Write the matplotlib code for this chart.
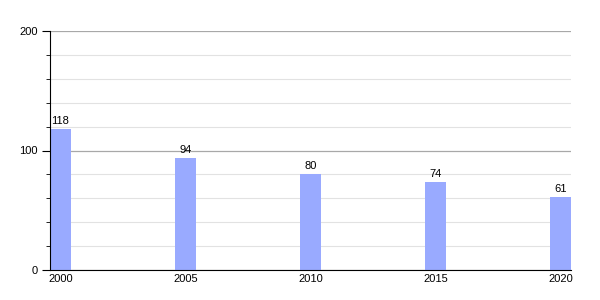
import matplotlib
matplotlib.use('Agg')
import matplotlib.pyplot as plt
from matplotlib.ticker import MultipleLocator

plt.rcParams['font.family'] = ['Liberation Sans', 'DejaVu Sans']

years = ['2000', '2005', '2010', '2015', '2020']
values = [118, 94, 80, 74, 61]

fig = plt.figure(figsize=(6, 3), dpi=100)
ax = fig.add_axes([50 / 600, 30 / 300, 521 / 600, 239 / 300])

pos = list(range(len(years)))
width = 0.165
bars = ax.bar(pos, values, width=width, align='edge', color='#99aaff', zorder=3)

for p, v in zip(pos, values):
    ax.text(p + width / 2, v + 2.5, str(v), ha='center', va='bottom', fontsize=8, zorder=6)

ax.set_xlim(0, len(years) - 1 + width)
ax.set_ylim(0, 200)
ax.set_xticks([p + width / 2 for p in pos])
ax.set_xticklabels(years, fontsize=8)
ax.tick_params(axis='x', length=0, pad=3)

ax.yaxis.set_major_locator(MultipleLocator(100))
ax.yaxis.set_minor_locator(MultipleLocator(20))
ax.tick_params(axis='y', which='major', length=6, labelsize=8, pad=3)
ax.tick_params(axis='y', which='minor', length=3)

ax.grid(axis='y', which='major', color='#a8a8a8', linewidth=0.9, zorder=0)
ax.grid(axis='y', which='minor', color='#e2e2e2', linewidth=0.8, zorder=0)

for s in ['top', 'right']:
    ax.spines[s].set_visible(False)
ax.spines['left'].set_color('black')
ax.spines['bottom'].set_color('black')
ax.spines['left'].set_zorder(5)
ax.spines['bottom'].set_zorder(5)

plt.savefig('out.png', dpi=100)
plt.close()
